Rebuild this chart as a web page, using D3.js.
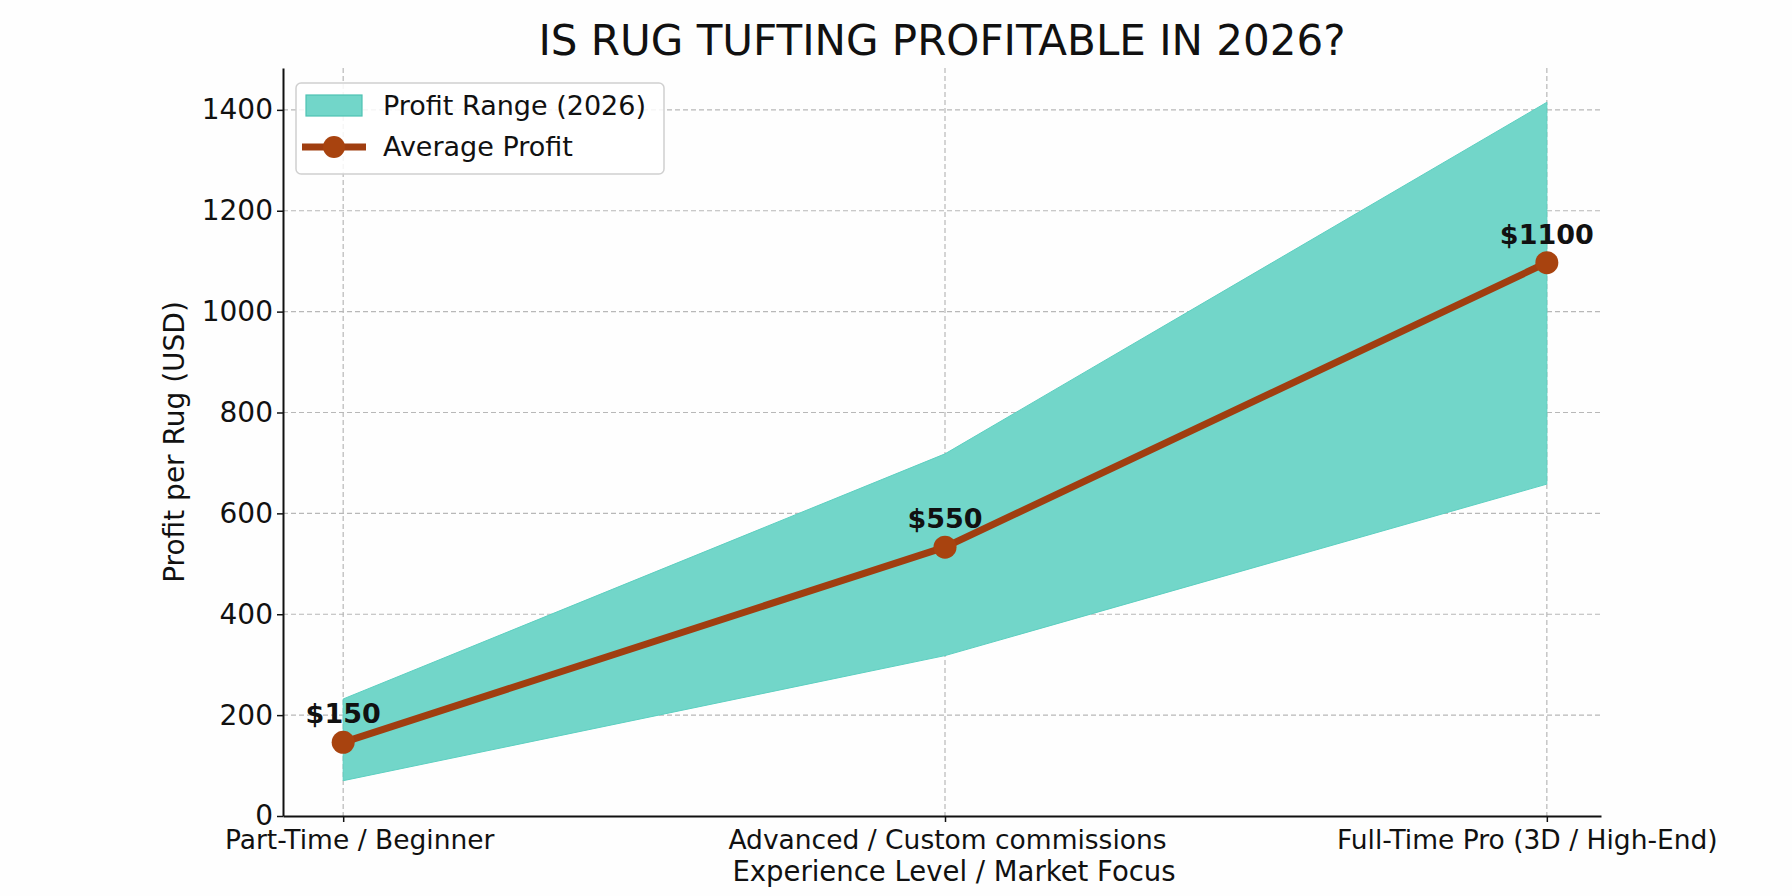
<!DOCTYPE html>
<html>
<head>
<meta charset="utf-8">
<script src="https://cdn.jsdelivr.net/npm/d3@7"></script>
<style>
    body { margin: 0; background: #fefefe; }
    text { font-family: "DejaVu Sans", sans-serif; }
</style>
</head>
<body>
<div id="chart"></div>
<script>
var categories = ["Part-Time / Beginner", "Advanced / Custom commissions", "Full-Time Pro (3D / High-End)"];
var profitLow = [70, 318, 658];
var profitHigh = [232, 718, 1415];
var avgProfit = [146, 533, 1097];
var avgLabels = ["$150", "$550", "$1100"];
var yTicks = [0, 200, 400, 600, 800, 1000, 1200, 1400];

var W = 1792, H = 896;
var plot = { left: 283, right: 1601, top: 68, bottom: 816 };

var FILL = "#72d6c9";
var LINE = "#a03e10";
var MARKER = "#a8430f";

var svg = d3.select("#chart")
    .append("svg")
    .attr("width", W)
    .attr("height", H);

svg.append("rect").attr("width", W).attr("height", H).attr("fill", "#fefefe");

var x = d3.scaleLinear()
    .domain([-0.1, 2.09])
    .range([plot.left, plot.right]);

var y = d3.scaleLinear()
    .domain([0, 1483])
    .range([plot.bottom, plot.top]);

// grid
var grid = svg.append("g")
    .attr("stroke", "#b8b8b8")
    .attr("stroke-width", 1.2)
    .attr("stroke-dasharray", "5,3");

grid.selectAll("line.h")
    .data(yTicks.slice(1))
    .enter()
    .append("line")
    .attr("x1", plot.left).attr("x2", plot.right)
    .attr("y1", function (d) { return y(d) })
    .attr("y2", function (d) { return y(d) });

grid.selectAll("line.v")
    .data(categories)
    .enter()
    .append("line")
    .attr("x1", function (d, i) { return x(i) })
    .attr("x2", function (d, i) { return x(i) })
    .attr("y1", plot.top).attr("y2", plot.bottom);

// profit range band
var area = d3.area()
    .x(function (d, i) { return x(i) })
    .y0(function (d, i) { return y(profitLow[i]) })
    .y1(function (d, i) { return y(profitHigh[i]) });

svg.append("path")
    .datum(categories)
    .attr("d", area)
    .attr("fill", FILL)
    .attr("stroke", "#5ccfc0")
    .attr("stroke-width", 1);

// average line
var line = d3.line()
    .x(function (d, i) { return x(i) })
    .y(function (d) { return y(d) });

svg.append("path")
    .datum(avgProfit)
    .attr("d", line)
    .attr("fill", "none")
    .attr("stroke", LINE)
    .attr("stroke-width", 7)
    .attr("stroke-linejoin", "round");

svg.selectAll("circle.pt")
    .data(avgProfit)
    .enter()
    .append("circle")
    .attr("cx", function (d, i) { return x(i) })
    .attr("cy", function (d) { return y(d) })
    .attr("r", 11.5)
    .attr("fill", MARKER);

svg.selectAll("text.lbl")
    .data(avgProfit)
    .enter()
    .append("text")
    .attr("x", function (d, i) { return x(i) })
    .attr("y", function (d) { return y(d) - 19 })
    .attr("text-anchor", "middle")
    .style("font-size", "27px")
    .style("font-weight", "bold")
    .style("fill", "#111")
    .text(function (d, i) { return avgLabels[i] });

// axes
var yAxis = svg.append("g")
    .attr("transform", "translate(" + plot.left + ",0)")
    .call(d3.axisLeft(y).tickValues(yTicks).tickSize(6).tickSizeOuter(0).tickPadding(4).tickFormat(d3.format("d")));

var xAxis = svg.append("g")
    .attr("transform", "translate(0," + plot.bottom + ")")
    .call(d3.axisBottom(x).tickValues([0, 1, 2]).tickSize(6).tickSizeOuter(0).tickPadding(8)
        .tickFormat(function (d) { return categories[d] }));

[yAxis, xAxis].forEach(function (a) {
    a.select(".domain").attr("stroke", "#111").attr("stroke-width", 2);
    a.selectAll(".tick line").attr("stroke", "#111").attr("stroke-width", 1.5);
    a.selectAll(".tick text")
        .style("font-family", "'DejaVu Sans', sans-serif")
        .style("fill", "#111");
});
yAxis.selectAll(".tick text").style("font-size", "28px");
// the outer category labels sit a little inward in the original
xAxis.selectAll(".tick text")
    .style("font-size", "26.5px")
    .attr("dx", function (d) { return d == 0 ? 16 : (d == 2 ? -20 : 2) });

// titles
svg.append("text")
    .attr("x", (plot.left + plot.right) / 2)
    .attr("y", 55)
    .attr("text-anchor", "middle")
    .style("font-size", "42px")
    .style("fill", "#111")
    .text("IS RUG TUFTING PROFITABLE IN 2026?");

svg.append("text")
    .attr("x", (plot.left + plot.right) / 2 + 12)
    .attr("y", 881)
    .attr("text-anchor", "middle")
    .style("font-size", "27.5px")
    .style("fill", "#111")
    .text("Experience Level / Market Focus");

svg.append("text")
    .attr("transform", "translate(184," + (plot.top + plot.bottom) / 2 + ") rotate(-90)")
    .attr("text-anchor", "middle")
    .style("font-size", "28px")
    .style("fill", "#111")
    .text("Profit per Rug (USD)");

// legend
var legend = svg.append("g").attr("transform", "translate(296,83)");

legend.append("rect")
    .attr("width", 368).attr("height", 91)
    .attr("rx", 5)
    .attr("fill", "#fff").attr("fill-opacity", 0.85)
    .attr("stroke", "#d0d0d0").attr("stroke-width", 1.5);

legend.append("rect")
    .attr("x", 10).attr("y", 12)
    .attr("width", 56).attr("height", 21)
    .attr("fill", FILL)
    .attr("stroke", "#4fc2b3").attr("stroke-width", 1.2);

legend.append("line")
    .attr("x1", 6).attr("x2", 70)
    .attr("y1", 64).attr("y2", 64)
    .attr("stroke", LINE).attr("stroke-width", 7);

legend.append("circle")
    .attr("cx", 38).attr("cy", 64).attr("r", 11)
    .attr("fill", MARKER);

legend.append("text")
    .attr("x", 87).attr("y", 32)
    .style("font-size", "27px").style("fill", "#111")
    .text("Profit Range (2026)");

legend.append("text")
    .attr("x", 87).attr("y", 73)
    .style("font-size", "27px").style("fill", "#111")
    .text("Average Profit");
</script>
</body>
</html>
